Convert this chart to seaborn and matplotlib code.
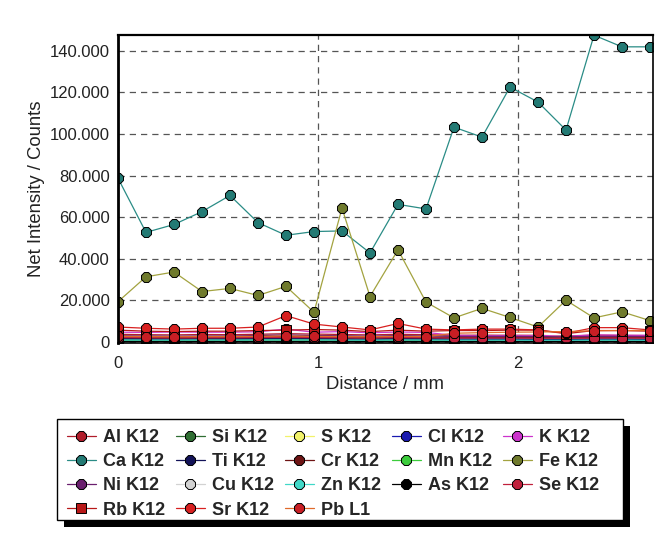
import matplotlib
matplotlib.use("Agg")
import matplotlib.pyplot as plt
import seaborn as sns
from matplotlib.ticker import FuncFormatter, MultipleLocator, AutoMinorLocator
from matplotlib.patches import Rectangle

# ---------------- data ----------------
distance_mm = [0.00, 0.14, 0.28, 0.42, 0.56, 0.70, 0.84, 0.98, 1.12, 1.26,
               1.40, 1.54, 1.68, 1.82, 1.96, 2.10, 2.24, 2.38, 2.52, 2.66]

al_k12 = [3500, 3300, 3200, 3400, 3300, 3500, 3800, 3600, 3400, 3200, 3500, 3300, 3000, 3100, 3000, 2900, 2700, 3100, 3000, 2900]
si_k12 = [900, 850, 800, 900, 850, 900, 950, 900, 850, 800, 900, 850, 800, 800, 800, 750, 700, 800, 800, 750]
s_k12 = [1800, 1700, 1600, 1700, 1700, 1800, 1900, 1800, 1700, 1600, 1800, 1700, 2600, 2800, 3000, 3100, 2500, 2200, 2000, 1900]
cl_k12 = [1200, 1100, 1100, 1200, 1100, 1200, 1300, 1200, 1100, 1000, 1200, 1100, 1000, 1000, 1000, 900, 900, 1000, 1000, 900]
k_k12 = [4500, 4400, 4600, 4500, 4500, 4700, 6000, 4500, 4800, 4200, 4600, 4400, 3000, 2800, 3000, 3000, 2500, 3200, 3000, 3000]
ca_k12 = [78700, 52600, 56400, 62600, 70400, 57300, 51200, 53000, 53300, 42700,
          66100, 63900, 103300, 98500, 122600, 115400, 101900, 147600, 142000, 142000]
ti_k12 = [1500, 1400, 1400, 1500, 1400, 1500, 1600, 1500, 1400, 1300, 1500, 1400, 1300, 1300, 1300, 1200, 1200, 1300, 1300, 1200]
cr_k12 = [2200, 2100, 2000, 2100, 2100, 2200, 2400, 2200, 2100, 2000, 2200, 2100, 2000, 2000, 2000, 1900, 1800, 2000, 2000, 1900]
mn_k12 = [600, 600, 550, 600, 600, 650, 700, 650, 600, 550, 600, 600, 550, 550, 550, 500, 500, 550, 550, 500]
fe_k12 = [19200, 31200, 33500, 24100, 25600, 22200, 26600, 14100, 64300, 21700,
          44200, 19000, 11400, 16000, 11600, 7000, 19900, 11400, 14300, 10100]
ni_k12 = [2800, 2700, 2600, 2700, 2700, 2900, 3200, 2900, 2800, 2600, 2900, 2700, 2500, 2500, 2500, 2400, 2300, 2500, 2500, 2400]
cu_k12 = [300, 300, 300, 300, 300, 300, 300, 300, 300, 300, 300, 300, 300, 300, 300, 300, 300, 300, 300, 300]
zn_k12 = [700, 650, 650, 700, 650, 700, 750, 700, 650, 600, 700, 650, 600, 600, 600, 550, 550, 600, 600, 550]
as_k12 = [100, 100, 100, 100, 100, 100, 100, 100, 100, 100, 100, 100, 100, 100, 100, 100, 100, 100, 100, 100]
se_k12 = [1900, 1800, 1700, 1800, 1800, 1900, 2000, 1900, 1800, 1700, 1900, 1800, 1700, 1700, 1700, 1600, 1500, 1700, 1700, 1600]
rb_k12 = [5500, 5000, 4800, 5000, 5000, 5300, 5500, 5800, 5500, 4800, 5500, 5000, 5300, 5300, 5500, 5500, 3800, 5300, 5300, 5000]
sr_k12 = [7000, 6400, 6000, 6400, 6400, 7000, 12500, 8400, 7000, 5600, 8700, 6000, 5600, 6000, 6000, 5600, 4000, 6700, 6700, 5600]
pb_l1 = [2500, 2400, 2300, 2400, 2400, 2500, 2700, 2500, 2400, 2300, 2500, 2400, 4000, 4300, 4500, 4600, 4800, 5200, 5300, 5300]

series = [
    ("Al K12", al_k12), ("Si K12", si_k12), ("S K12", s_k12), ("Cl K12", cl_k12), ("K K12", k_k12),
    ("Ca K12", ca_k12), ("Ti K12", ti_k12), ("Cr K12", cr_k12), ("Mn K12", mn_k12), ("Fe K12", fe_k12),
    ("Ni K12", ni_k12), ("Cu K12", cu_k12), ("Zn K12", zn_k12), ("As K12", as_k12), ("Se K12", se_k12),
    ("Rb K12", rb_k12), ("Sr K12", sr_k12), ("Pb L1", pb_l1),
]

colors = {
    "Al K12": "#b01c2a", "Si K12": "#2f6e32", "S K12": "#f2f26a", "Cl K12": "#1a1ab0",
    "K K12": "#cc33cc", "Ca K12": "#237a74", "Ti K12": "#121258", "Cr K12": "#6e1414",
    "Mn K12": "#3ccc3c", "Fe K12": "#6f7a2c", "Ni K12": "#6a1f6e", "Cu K12": "#d2d2d2",
    "Zn K12": "#40d8c8", "As K12": "#000000", "Se K12": "#c0203c", "Rb K12": "#b81818",
    "Sr K12": "#d82020", "Pb L1": "#c81e24",
}
line_colors = {"Fe K12": "#a3a340", "Ca K12": "#2a8c86", "Pb L1": "#e06a2a"}
markers = {"Rb K12": "s"}

# ---------------- plot ----------------
sns.set_style("white")
plt.rcParams["font.family"] = ["Liberation Sans", "DejaVu Sans"]

fig = plt.figure(figsize=(6.57, 5.43), dpi=100)
ax = fig.add_axes([118 / 657, 1 - 343 / 543, (653 - 118) / 657, (343 - 35) / 543])

draw_order = [s for s in series if s[0] in ("Fe K12", "Ca K12")] + \
             [s for s in series if s[0] not in ("Ca K12", "Fe K12")]
handles = {}
for name, vals in draw_order:
    sns.lineplot(x=distance_mm, y=vals, ax=ax, color=line_colors.get(name, colors[name]),
                 marker=markers.get(name, "8"), markersize=7.5, markerfacecolor=colors[name],
                 markeredgecolor="black", markeredgewidth=0.7, linewidth=0.9,
                 label=name, legend=False, clip_on=True)
    handles[name] = ax.lines[-1]

ax.set_xlim(0, 2.675)
ax.set_ylim(-700, 147700)
ax.yaxis.set_major_locator(MultipleLocator(20000))
ax.yaxis.set_minor_locator(AutoMinorLocator(5))
ax.xaxis.set_major_locator(MultipleLocator(1))
ax.xaxis.set_minor_locator(AutoMinorLocator(4))
ax.yaxis.set_major_formatter(FuncFormatter(lambda v, p: f"{v:,.0f}".replace(",", ".")))
ax.tick_params(axis="both", which="major", direction="out", length=5, width=0.8,
               labelsize=12, colors="#222222", pad=1)
ax.tick_params(axis="x", which="major", pad=4)
ax.tick_params(axis="both", which="minor", direction="out", length=3, width=0.6, colors="#444444")
ax.grid(True, which="major", linestyle=(0, (5, 4)), color="#555555", linewidth=0.9)
for side, sp in ax.spines.items():
    sp.set_visible(True)
    sp.set_color("black")
    sp.set_linewidth(1.2)
ax.spines["left"].set_linewidth(2.0)
ax.spines["top"].set_linewidth(1.6)

ax.set_xlabel("Distance / mm", fontsize=13.3, color="#222222", labelpad=4)
ax.set_ylabel("Net Intensity / Counts", fontsize=13.3, color="#222222", labelpad=3)

# legend: matplotlib fills columns first; reorder so rows read like the reference
ncol = 5
names = [n for n, _ in series]
rows = [names[i:i + ncol] for i in range(0, len(names), ncol)]
col_order = [r[c] for c in range(ncol) for r in rows if c < len(r)]

leg = fig.legend([handles[n] for n in col_order], col_order,
                 loc="upper left", bbox_to_anchor=(57 / 657, 1 - 419 / 543), ncol=ncol,
                 frameon=False, prop={"weight": "bold", "size": 13},
                 handlelength=1.6, handletextpad=0.4,
                 columnspacing=0.6, labelspacing=0.4, borderpad=0.55, borderaxespad=0)
leg.set_zorder(6)

# legend box with solid offset shadow
box_x0, box_x1 = 57 / 657, 623 / 657
box_y0, box_y1 = 1 - 520 / 543, 1 - 419 / 543
shadow = Rectangle((box_x0 + 7 / 657, box_y0 - 7 / 543), box_x1 - box_x0, box_y1 - box_y0,
                   transform=fig.transFigure, facecolor="black", edgecolor="none", zorder=4)
frame = Rectangle((box_x0, box_y0), box_x1 - box_x0, box_y1 - box_y0,
                  transform=fig.transFigure, facecolor="white", edgecolor="black",
                  linewidth=1.0, zorder=5)
fig.patches.extend([shadow, frame])

fig.savefig("out.png", dpi=100)
